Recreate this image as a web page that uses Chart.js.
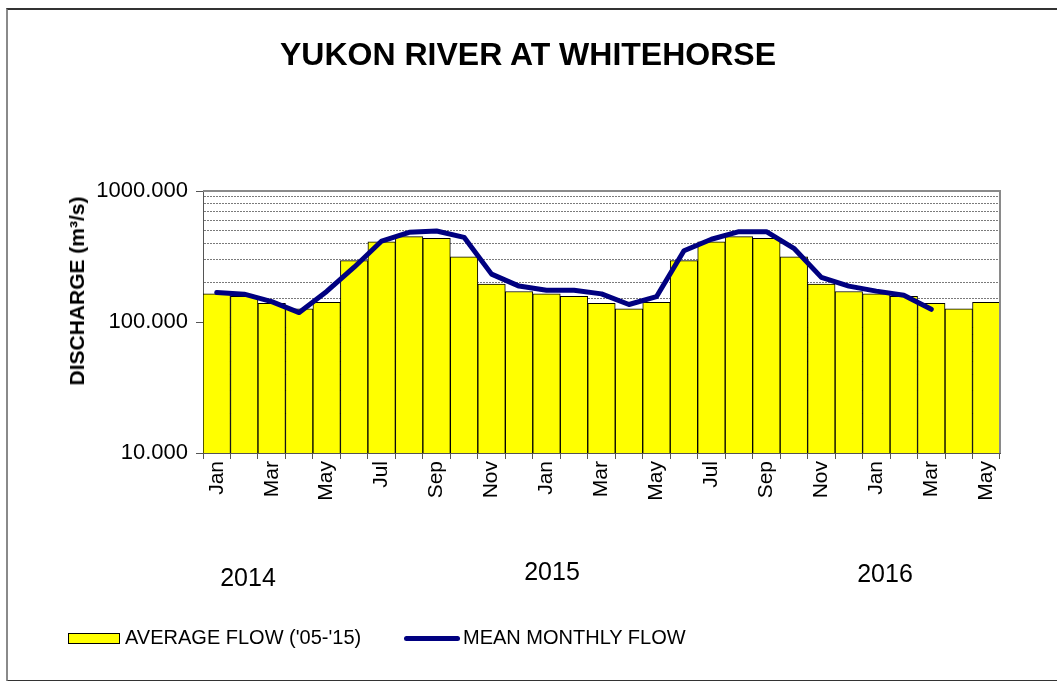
<!DOCTYPE html>
<html>
<head>
<meta charset="utf-8">
<script src="https://cdn.jsdelivr.net/npm/chart.js@4"></script>
<style>
  body { margin: 0; background: white; font-family: Arial, "Liberation Sans", sans-serif; }
  .wrap { position: relative; width: 1057px; height: 681px; overflow: hidden; }
  .frame { position: absolute; left: 6px; top: 8px; width: 1100px; height: 670px;
    border-left: 2px solid #8a8a8a; border-top: 2px solid #333; border-bottom: 2px solid #333; }
  canvas { position: absolute; left: 0; top: 0; }
  .txt { position: absolute; color: black; white-space: nowrap; }
  .title { left: 0; width: 1056px; top: 36px; text-align: center; font-weight: bold; font-size: 32px; }
  .ytitle { left: 77px; top: 291px; font-weight: bold; font-size: 21px;
    transform: translate(-50%, -50%) rotate(-90deg); }
  .year { font-size: 25px; transform: translate(-50%, -50%); }
  .leg { font-size: 20px; top: 626px; }
  .legbox { position: absolute; left: 68px; top: 633px; width: 50px; height: 9px;
    background: #ffff00; border: 1px solid #000; }
  .legline { position: absolute; left: 404px; top: 636px; width: 56px; height: 5px;
    background: #000080; border-radius: 3px; }
</style>
</head>
<body>
<div class="wrap">
  <div class="frame"></div>
  <canvas id="c" width="1057" height="681"></canvas>
  <div class="txt title">YUKON RIVER AT WHITEHORSE</div>
  <div class="txt ytitle">DISCHARGE (m³/s)</div>
  <div class="txt year" style="left:248px; top:577px;">2014</div>
  <div class="txt year" style="left:552px; top:571px;">2015</div>
  <div class="txt year" style="left:885px; top:573px;">2016</div>
  <div class="legbox"></div>
  <div class="txt leg" style="left:125px;">AVERAGE FLOW ('05-'15)</div>
  <div class="legline"></div>
  <div class="txt leg" style="left:463px;">MEAN MONTHLY FLOW</div>
</div>
<script>
// Yukon River at Whitehorse - monthly discharge, Jan 2014 .. May 2016

const months = ['Jan', 'Feb', 'Mar', 'Apr', 'May', 'Jun', 'Jul', 'Aug', 'Sep', 'Oct', 'Nov', 'Dec',
                'Jan', 'Feb', 'Mar', 'Apr', 'May', 'Jun', 'Jul', 'Aug', 'Sep', 'Oct', 'Nov', 'Dec',
                'Jan', 'Feb', 'Mar', 'Apr', 'May'];

// average flow 2005-2015 (m3/s)
const avgFlow = [164, 157, 139, 126, 141, 294, 410, 448, 436, 315, 195, 171,
                 164, 157, 139, 126, 141, 294, 410, 448, 436, 315, 195, 171,
                 164, 157, 139, 126, 141];

// mean monthly flow (m3/s), ends Mar 2016
const meanFlow = [168, 163, 143, 118, 171, 262, 415, 484, 495, 443, 232, 188,
                  175, 175, 164, 136, 156, 350, 428, 489, 489, 365, 219, 188,
                  172, 160, 125];

const yTicks = [10, 100, 1000];

const FONT = 'Arial, "Liberation Sans", sans-serif';

// grey frame on top and right of the plot area
const framePlugin = {
    id: 'plotFrame',
    afterDraw: function (chart) {
        const a = chart.chartArea;
        const ctx = chart.ctx;
        ctx.save();
        ctx.strokeStyle = '#8a8a8a';
        ctx.lineWidth = 2;
        ctx.beginPath();
        ctx.moveTo(a.left, a.top);
        ctx.lineTo(a.right, a.top);
        ctx.lineTo(a.right, a.bottom);
        ctx.stroke();
        ctx.restore();
    }
};

new Chart(document.getElementById('c'), {
    data: {
        labels: months,
        datasets: [
            {
                type: 'line',
                label: 'MEAN MONTHLY FLOW',
                data: meanFlow,
                borderColor: '#000080',
                borderWidth: 5,
                borderCapStyle: 'round',
                borderJoinStyle: 'round',
                pointRadius: 0,
                tension: 0,
                fill: false,
                order: 0
            },
            {
                type: 'bar',
                label: "AVERAGE FLOW ('05-'15)",
                data: avgFlow,
                backgroundColor: '#ffff00',
                borderColor: '#000000',
                borderWidth: 1,
                categoryPercentage: 1.0,
                barPercentage: 1.0,
                order: 1
            }
        ]
    },
    options: {
        responsive: false,
        animation: false,
        layout: { padding: { left: 0, right: 57, top: 191, bottom: 138 } },
        plugins: {
            legend: { display: false },
            title: { display: false },
            tooltip: { enabled: false }
        },
        scales: {
            x: {
                type: 'category',
                offset: true,
                afterFit: function (s) { s.height = 90; },
                grid: {
                    offset: true,
                    drawOnChartArea: false,
                    tickLength: 6,
                    tickColor: '#555'
                },
                border: { color: '#555', width: 1 },
                ticks: {
                    autoSkip: false,
                    minRotation: 90,
                    maxRotation: 90,
                    padding: 2,
                    color: '#000',
                    font: { family: FONT, size: 21 },
                    callback: function (v, i) { return i % 2 === 0 ? months[i] : ''; }
                }
            },
            y: {
                type: 'logarithmic',
                min: 10,
                max: 1000,
                afterFit: function (s) { s.width = 203; },
                grid: {
                    color: function (c) {
                        const v = c.tick ? c.tick.value : 0;
                        return yTicks.indexOf(v) >= 0 ? 'rgba(0,0,0,0)' : '#7a7a7a';
                    },
                    tickColor: function (c) {
                        const v = c.tick ? c.tick.value : 0;
                        return yTicks.indexOf(v) >= 0 ? '#555' : 'rgba(0,0,0,0)';
                    },
                    tickLength: 7,
                    lineWidth: 1
                },
                border: { color: '#555', width: 1, dash: [2, 1] },
                ticks: {
                    autoSkip: false,
                    padding: 8,
                    color: '#000',
                    font: { family: FONT, size: 22 },
                    callback: function (v) {
                        return yTicks.indexOf(v) >= 0 ? v.toFixed(3) : '';
                    }
                }
            }
        }
    },
    plugins: [framePlugin]
});
</script>
</body>
</html>
